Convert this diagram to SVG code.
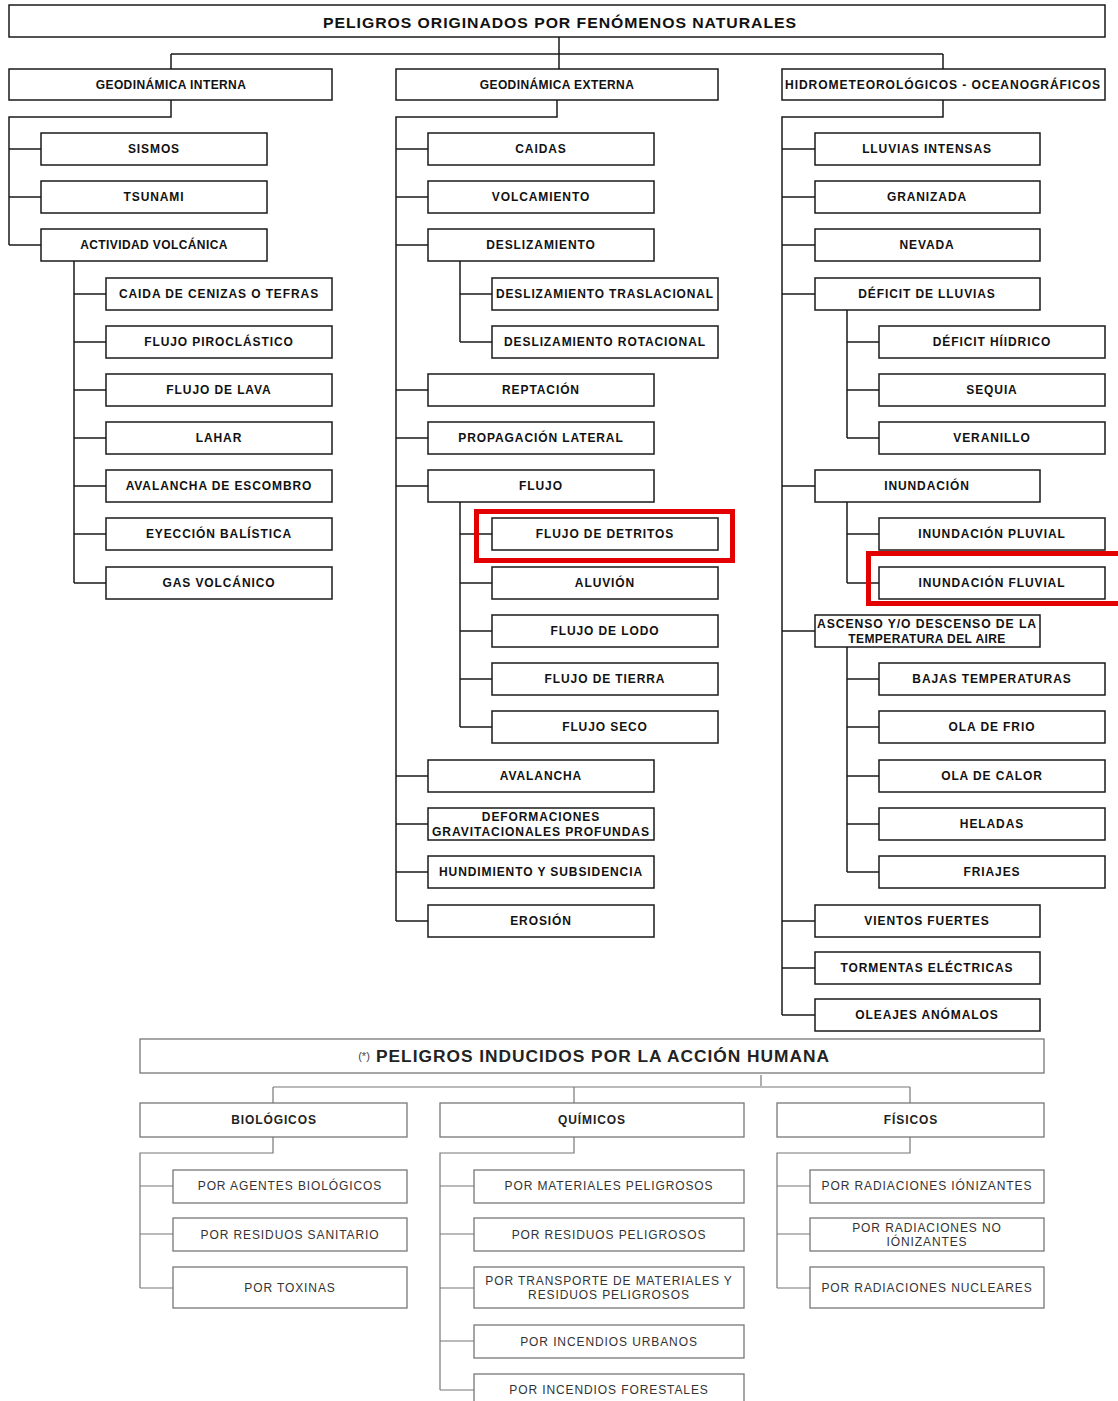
<svg xmlns="http://www.w3.org/2000/svg" width="1118" height="1401" viewBox="0 0 1118 1401">
<style>
.b rect{fill:#fff;stroke:#1a1a1a;stroke-width:1.5}
.b text{font-family:"Liberation Sans",Arial,sans-serif;font-weight:bold;font-size:12px;fill:#111;text-anchor:middle;dominant-baseline:central;letter-spacing:0.9px}
.h rect{fill:#fff;stroke:#777;stroke-width:1.3}
.h text{font-family:"Liberation Sans",Arial,sans-serif;font-size:12px;fill:#333;text-anchor:middle;dominant-baseline:central;letter-spacing:0.9px}
.h .hd{font-weight:bold;fill:#222}
.conn{fill:none;stroke:#1a1a1a;stroke-width:1.5}
.conn2{fill:none;stroke:#777;stroke-width:1.2}
.red{fill:none;stroke:#e30000;stroke-width:5}
</style>
<rect width="1118" height="1401" fill="#fff"/>
<g id="connectors">
<path class="conn" d="M559 37V69M171 54H943M171 54V69M943 54V69
M171 100V117H9V245M9 149H41M9 197H41M9 245H41
M74 261V583M74 294H106M74 342H106M74 390H106M74 438H106M74 486H106M74 534H106M74 583H106
M557 100V117H396V921M396 149H428M396 197H428M396 245H428M396 390H428M396 438H428M396 486H428M396 776H428M396 824H428M396 872H428M396 921H428
M460 261V342M460 294H492M460 342H492
M460 502V727M460 534H492M460 583H492M460 631H492M460 679H492M460 727H492
M943 100V117H782V1015M782 149H815M782 197H815M782 245H815M782 294H815M782 486H815M782 631H815M782 921H815M782 968H815M782 1015H815
M847 310V438M847 342H879M847 390H879M847 438H879
M847 502V583M847 534H879M847 583H879
M847 647V872M847 679H879M847 727H879M847 776H879M847 824H879M847 872H879"/>
<path class="conn2" d="M761 1075V1086M273 1087H910M273 1087V1103M574 1087V1103M910 1087V1103
M273 1137V1153H140V1288M140 1186H173M140 1234H173M140 1288H173
M574 1137V1153H440V1390M440 1186H474M440 1234H474M440 1288H474M440 1341H474M440 1390H474
M910 1137V1153H777V1288M777 1186H810M777 1234H810M777 1288H810"/>
</g>
<g id="root" class="b"><rect x="9" y="5" width="1096" height="32"/><text x="560" y="22" style="font-size:15px" textLength="474" lengthAdjust="spacingAndGlyphs">PELIGROS ORIGINADOS POR FENÓMENOS NATURALES</text></g>
<g id="geo-interna" class="b"><rect x="9" y="69" width="323" height="31"/><text x="171" y="85" style="letter-spacing:0.4px">GEODINÁMICA INTERNA</text></g>
<g id="geo-externa" class="b"><rect x="396" y="69" width="322" height="31"/><text x="557" y="85" style="letter-spacing:0.4px">GEODINÁMICA EXTERNA</text></g>
<g id="hidro" class="b"><rect x="782" y="69" width="323" height="31"/><text x="943" y="85" textLength="316" lengthAdjust="spacingAndGlyphs">HIDROMETEOROLÓGICOS - OCEANOGRÁFICOS</text></g>

<g id="sismos" class="b"><rect x="41" y="133" width="226" height="32"/><text x="154" y="149">SISMOS</text></g>
<g id="tsunami" class="b"><rect x="41" y="181" width="226" height="32"/><text x="154" y="197">TSUNAMI</text></g>
<g id="actividad" class="b"><rect x="41" y="229" width="226" height="32"/><text x="154" y="245" style="letter-spacing:0.4px">ACTIVIDAD VOLCÁNICA</text></g>
<g id="cenizas" class="b"><rect x="106" y="278" width="226" height="32"/><text x="219" y="294">CAIDA DE CENIZAS O TEFRAS</text></g>
<g id="piroclastico" class="b"><rect x="106" y="326" width="226" height="32"/><text x="219" y="342">FLUJO PIROCLÁSTICO</text></g>
<g id="lava" class="b"><rect x="106" y="374" width="226" height="32"/><text x="219" y="390">FLUJO DE LAVA</text></g>
<g id="lahar" class="b"><rect x="106" y="422" width="226" height="32"/><text x="219" y="438">LAHAR</text></g>
<g id="escombro" class="b"><rect x="106" y="470" width="226" height="32"/><text x="219" y="486">AVALANCHA DE ESCOMBRO</text></g>
<g id="eyeccion" class="b"><rect x="106" y="518" width="226" height="32"/><text x="219" y="534">EYECCIÓN BALÍSTICA</text></g>
<g id="gas" class="b"><rect x="106" y="567" width="226" height="32"/><text x="219" y="583">GAS VOLCÁNICO</text></g>

<g id="caidas" class="b"><rect x="428" y="133" width="226" height="32"/><text x="541" y="149">CAIDAS</text></g>
<g id="volcamiento" class="b"><rect x="428" y="181" width="226" height="32"/><text x="541" y="197">VOLCAMIENTO</text></g>
<g id="deslizamiento" class="b"><rect x="428" y="229" width="226" height="32"/><text x="541" y="245">DESLIZAMIENTO</text></g>
<g id="traslacional" class="b"><rect x="492" y="278" width="226" height="32"/><text x="605" y="294" textLength="218" lengthAdjust="spacingAndGlyphs">DESLIZAMIENTO TRASLACIONAL</text></g>
<g id="rotacional" class="b"><rect x="492" y="326" width="226" height="32"/><text x="605" y="342" textLength="202" lengthAdjust="spacingAndGlyphs">DESLIZAMIENTO ROTACIONAL</text></g>
<g id="reptacion" class="b"><rect x="428" y="374" width="226" height="32"/><text x="541" y="390">REPTACIÓN</text></g>
<g id="propagacion" class="b"><rect x="428" y="422" width="226" height="32"/><text x="541" y="438">PROPAGACIÓN  LATERAL</text></g>
<g id="flujo" class="b"><rect x="428" y="470" width="226" height="32"/><text x="541" y="486">FLUJO</text></g>
<g id="detritos" class="b"><rect x="492" y="518" width="226" height="32"/><text x="605" y="534">FLUJO DE DETRITOS</text></g>
<g id="aluvion" class="b"><rect x="492" y="567" width="226" height="32"/><text x="605" y="583">ALUVIÓN</text></g>
<g id="lodo" class="b"><rect x="492" y="615" width="226" height="32"/><text x="605" y="631">FLUJO DE LODO</text></g>
<g id="tierra" class="b"><rect x="492" y="663" width="226" height="32"/><text x="605" y="679">FLUJO DE TIERRA</text></g>
<g id="seco" class="b"><rect x="492" y="711" width="226" height="32"/><text x="605" y="727">FLUJO SECO</text></g>
<g id="avalancha" class="b"><rect x="428" y="760" width="226" height="32"/><text x="541" y="776">AVALANCHA</text></g>
<g id="deformaciones" class="b"><rect x="428" y="808" width="226" height="32"/><text x="541" y="817">DEFORMACIONES</text><text x="541" y="832" textLength="218" lengthAdjust="spacingAndGlyphs">GRAVITACIONALES PROFUNDAS</text></g>
<g id="hundimiento" class="b"><rect x="428" y="856" width="226" height="32"/><text x="541" y="872" textLength="204" lengthAdjust="spacingAndGlyphs">HUNDIMIENTO Y SUBSIDENCIA</text></g>
<g id="erosion" class="b"><rect x="428" y="905" width="226" height="32"/><text x="541" y="921">EROSIÓN</text></g>

<g id="lluvias" class="b"><rect x="815" y="133" width="225" height="32"/><text x="927" y="149">LLUVIAS INTENSAS</text></g>
<g id="granizada" class="b"><rect x="815" y="181" width="225" height="32"/><text x="927" y="197">GRANIZADA</text></g>
<g id="nevada" class="b"><rect x="815" y="229" width="225" height="32"/><text x="927" y="245">NEVADA</text></g>
<g id="deficit" class="b"><rect x="815" y="278" width="225" height="32"/><text x="927" y="294">DÉFICIT DE LLUVIAS</text></g>
<g id="hidrico" class="b"><rect x="879" y="326" width="226" height="32"/><text x="992" y="342">DÉFICIT HÍIDRICO</text></g>
<g id="sequia" class="b"><rect x="879" y="374" width="226" height="32"/><text x="992" y="390">SEQUIA</text></g>
<g id="veranillo" class="b"><rect x="879" y="422" width="226" height="32"/><text x="992" y="438">VERANILLO</text></g>
<g id="inundacion" class="b"><rect x="815" y="470" width="225" height="32"/><text x="927" y="486">INUNDACIÓN</text></g>
<g id="pluvial" class="b"><rect x="879" y="518" width="226" height="32"/><text x="992" y="534">INUNDACIÓN PLUVIAL</text></g>
<g id="fluvial" class="b"><rect x="879" y="567" width="226" height="32"/><text x="992" y="583">INUNDACIÓN FLUVIAL</text></g>
<g id="ascenso" class="b"><rect x="815" y="615" width="225" height="32"/><text x="927" y="624" textLength="220" lengthAdjust="spacingAndGlyphs">ASCENSO Y/O DESCENSO DE LA</text><text x="927" y="639" style="letter-spacing:0.4px">TEMPERATURA DEL AIRE</text></g>
<g id="bajas" class="b"><rect x="879" y="663" width="226" height="32"/><text x="992" y="679">BAJAS TEMPERATURAS</text></g>
<g id="frio" class="b"><rect x="879" y="711" width="226" height="32"/><text x="992" y="727">OLA DE FRIO</text></g>
<g id="calor" class="b"><rect x="879" y="760" width="226" height="32"/><text x="992" y="776">OLA DE CALOR</text></g>
<g id="heladas" class="b"><rect x="879" y="808" width="226" height="32"/><text x="992" y="824">HELADAS</text></g>
<g id="friajes" class="b"><rect x="879" y="856" width="226" height="32"/><text x="992" y="872">FRIAJES</text></g>
<g id="vientos" class="b"><rect x="815" y="905" width="225" height="32"/><text x="927" y="921">VIENTOS FUERTES</text></g>
<g id="tormentas" class="b"><rect x="815" y="952" width="225" height="32"/><text x="927" y="968">TORMENTAS ELÉCTRICAS</text></g>
<g id="oleajes" class="b"><rect x="815" y="999" width="225" height="32"/><text x="927" y="1015">OLEAJES ANÓMALOS</text></g>

<g id="highlights"><rect class="red" x="476.5" y="511.5" width="256" height="49"/><rect class="red" x="868.5" y="553.5" width="260" height="50"/></g>

<g id="inducidos" class="h"><rect x="140" y="1039" width="904" height="34"/><text x="364" y="1056" style="font-size:11px;letter-spacing:0;fill:#444">(*)</text><text x="603" y="1056" class="hd" style="font-size:16px" textLength="454" lengthAdjust="spacingAndGlyphs">PELIGROS INDUCIDOS POR LA ACCIÓN HUMANA</text></g>
<g id="biologicos" class="h"><rect x="140" y="1103" width="267" height="34"/><text x="274" y="1120" class="hd">BIOLÓGICOS</text></g>
<g id="quimicos" class="h"><rect x="440" y="1103" width="304" height="34"/><text x="592" y="1120" class="hd">QUÍMICOS</text></g>
<g id="fisicos" class="h"><rect x="777" y="1103" width="267" height="34"/><text x="911" y="1120" class="hd">FÍSICOS</text></g>
<g id="agentes" class="h"><rect x="173" y="1170" width="234" height="33"/><text x="290" y="1186">POR AGENTES BIOLÓGICOS</text></g>
<g id="sanitario" class="h"><rect x="173" y="1218" width="234" height="33"/><text x="290" y="1235">POR RESIDUOS SANITARIO</text></g>
<g id="toxinas" class="h"><rect x="173" y="1267" width="234" height="41"/><text x="290" y="1288">POR TOXINAS</text></g>
<g id="materiales" class="h"><rect x="474" y="1170" width="270" height="33"/><text x="609" y="1186">POR MATERIALES PELIGROSOS</text></g>
<g id="residuos" class="h"><rect x="474" y="1218" width="270" height="33"/><text x="609" y="1235">POR RESIDUOS PELIGROSOS</text></g>
<g id="transporte" class="h"><rect x="474" y="1267" width="270" height="41"/><text x="609" y="1281">POR TRANSPORTE DE MATERIALES Y</text><text x="609" y="1295">RESIDUOS PELIGROSOS</text></g>
<g id="urbanos" class="h"><rect x="474" y="1325" width="270" height="33"/><text x="609" y="1342">POR INCENDIOS URBANOS</text></g>
<g id="forestales" class="h"><rect x="474" y="1374" width="270" height="40"/><text x="609" y="1390">POR INCENDIOS FORESTALES</text></g>
<g id="ionizantes" class="h"><rect x="810" y="1170" width="234" height="33"/><text x="927" y="1186">POR RADIACIONES IÓNIZANTES</text></g>
<g id="noionizantes" class="h"><rect x="810" y="1218" width="234" height="33"/><text x="927" y="1228">POR RADIACIONES NO</text><text x="927" y="1242">IÓNIZANTES</text></g>
<g id="nucleares" class="h"><rect x="810" y="1267" width="234" height="41"/><text x="927" y="1288">POR RADIACIONES NUCLEARES</text></g>
</svg>
